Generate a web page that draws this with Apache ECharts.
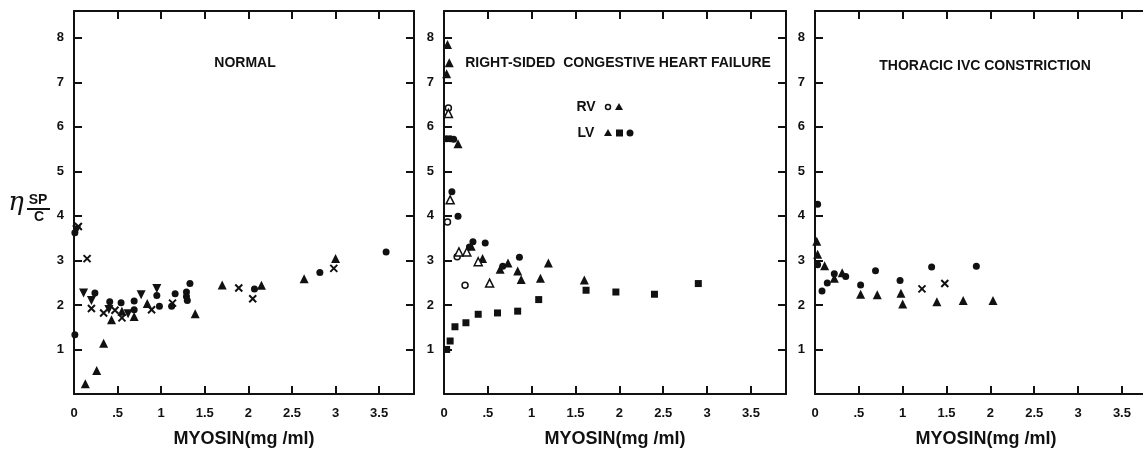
<!DOCTYPE html>
<html>
<head>
<meta charset="utf-8">
<script src="https://cdn.jsdelivr.net/npm/echarts@6/dist/echarts.min.js"></script>
<style>
  html, body { margin: 0; padding: 0; background: #fff; }
  #chart { width: 1143px; height: 449px; }
</style>
</head>
<body>
<div id="chart"></div>
<script>
// tick values and their printed labels
const xTickValues = [0, 0.5, 1, 1.5, 2, 2.5, 3, 3.5];
const xTickLabels = ['0', '.5', '1', '1.5', '2', '2.5', '3', '3.5'];
const yTickValues = [1, 2, 3, 4, 5, 6, 7, 8];

// NORMAL
const normalCircle = [[3.58,3.19],[2.82,2.73],[2.07,2.36],[1.33,2.48],[1.29,2.29],[1.29,2.19],[1.30,2.10],[1.16,2.25],[1.12,1.97],[0.98,1.97],[0.95,2.21],[0.69,2.09],[0.69,1.89],[0.54,2.05],[0.41,2.07],[0.24,2.27],[0.01,1.33],[0.01,3.62]];
const normalCross = [[0.05,3.76],[0.15,3.04],[0.20,1.92],[0.34,1.82],[0.47,1.88],[0.55,1.71],[0.89,1.89],[1.13,2.04],[1.89,2.38],[2.05,2.14],[2.98,2.82]];
const normalDown = [[0.03,3.68],[0.11,2.27],[0.20,2.10],[0.40,1.90],[0.62,1.80],[0.77,2.23],[0.95,2.37]];
const normalUp = [[0.13,0.23],[0.26,0.53],[0.34,1.14],[0.43,1.67],[0.55,1.86],[0.69,1.74],[0.84,2.03],[1.39,1.80],[1.70,2.45],[2.15,2.44],[2.64,2.59],[3.00,3.04]];

// RIGHT-SIDED CONGESTIVE HEART FAILURE
const lvSquare = [[0.03,1.00],[0.07,1.19],[0.125,1.51],[0.25,1.60],[0.39,1.79],[0.61,1.82],[0.84,1.86],[1.08,2.12],[1.62,2.33],[1.96,2.29],[2.40,2.24],[2.90,2.48]];
const lvTriangle = [[0.04,7.85],[0.06,7.44],[0.03,7.19],[0.16,5.62],[0.31,3.32],[0.44,3.04],[0.64,2.80],[0.73,2.94],[0.84,2.76],[0.88,2.57],[1.10,2.60],[1.19,2.94],[1.60,2.56]];
const lvCircle = [[0.03,5.73],[0.07,5.73],[0.11,5.72],[0.09,4.54],[0.16,3.99],[0.33,3.42],[0.29,3.30],[0.47,3.39],[0.67,2.87],[0.86,3.07]];
const rvCircle = [[0.05,6.42],[0.04,3.86],[0.15,3.08],[0.24,2.44]];
const rvTriangle = [[0.05,6.30],[0.07,4.36],[0.17,3.19],[0.26,3.19],[0.39,2.97],[0.52,2.49]];

// THORACIC IVC CONSTRICTION
const ivcCircle = [[0.03,4.26],[0.03,2.90],[0.08,2.31],[0.14,2.49],[0.22,2.70],[0.35,2.64],[0.52,2.45],[0.69,2.77],[0.97,2.55],[1.33,2.85],[1.84,2.87]];
const ivcTriangle = [[0.02,3.43],[0.03,3.14],[0.11,2.88],[0.22,2.60],[0.31,2.72],[0.52,2.24],[0.71,2.23],[0.98,2.26],[1.00,2.02],[1.39,2.07],[1.69,2.10],[2.03,2.10]];
const ivcCross = [[1.22,2.36],[1.48,2.48]];

const INK = '#111';
const FONT = '"Liberation Sans", Arial, sans-serif';
const crossPath = 'path://M1,1L9,9M9,1L1,9';

// panel 3 runs off the right edge of the picture, as in the scan
const grids = [
  {left: 74, top: 11, width: 340, height: 383, outerBoundsMode: 'none', containLabel: false},
  {left: 444, top: 11, width: 342, height: 383, outerBoundsMode: 'none', containLabel: false},
  {left: 815, top: 11, width: 342, height: 383, outerBoundsMode: 'none', containLabel: false}
];

const xAxes = [], yAxes = [];
grids.forEach((g, i) => {
  const line = {onZero: false, lineStyle: {color: INK, width: 2}};
  const tick = {inside: true, length: 8, lineStyle: {color: INK, width: 2}};
  xAxes.push({
    type: 'value', gridIndex: i, min: 0, max: 3.9, position: 'bottom',
    axisLine: line,
    axisTick: Object.assign({customValues: xTickValues}, tick),
    axisLabel: {
      customValues: xTickValues, margin: 13, color: INK, fontWeight: 'bold', fontSize: 13, fontFamily: FONT,
      formatter: v => xTickLabels[xTickValues.indexOf(v)] ?? ''
    },
    splitLine: {show: false},
    name: 'MYOSIN(mg /ml)', nameLocation: 'middle', nameGap: 36,
    nameTextStyle: {color: INK, fontWeight: 'bold', fontSize: 18, fontFamily: FONT}
  });
  xAxes.push({
    type: 'value', gridIndex: i, min: 0, max: 3.9, position: 'top',
    axisLine: line,
    axisTick: Object.assign({customValues: xTickValues}, tick),
    axisLabel: {show: false},
    splitLine: {show: false}
  });
  yAxes.push({
    type: 'value', gridIndex: i, min: 0, max: 8.6, position: 'left',
    axisLine: line,
    axisTick: Object.assign({customValues: yTickValues}, tick),
    axisLabel: {customValues: yTickValues, margin: 10, color: INK, fontWeight: 'bold', fontSize: 13, fontFamily: FONT},
    splitLine: {show: false}
  });
  yAxes.push({
    type: 'value', gridIndex: i, min: 0, max: 8.6, position: 'right',
    axisLine: line,
    axisTick: Object.assign({customValues: yTickValues}, tick),
    axisLabel: {show: false},
    splitLine: {show: false}
  });
});

function pts(panel, data, symbol, size, extra) {
  return Object.assign({
    type: 'scatter', xAxisIndex: panel * 2, yAxisIndex: panel * 2,
    data: data, symbol: symbol, symbolSize: size,
    itemStyle: {color: INK, opacity: 1}, silent: true
  }, extra || {});
}
const crossStyle = {itemStyle: {color: 'none', borderColor: INK, borderWidth: 2, opacity: 1}};
const openStyle = {itemStyle: {color: '#fff', borderColor: INK, borderWidth: 1.5, opacity: 1}};

const series = [
  pts(0, normalCircle, 'circle', 7),
  pts(0, normalCross, crossPath, 7, crossStyle),
  pts(0, normalDown, 'triangle', 9, {symbolRotate: 180}),
  pts(0, normalUp, 'triangle', 9),
  pts(1, lvSquare, 'rect', 7),
  pts(1, lvTriangle, 'triangle', 9),
  pts(1, lvCircle, 'circle', 7),
  pts(1, rvCircle, 'circle', 6, openStyle),
  pts(1, rvTriangle, 'triangle', 8, openStyle),
  pts(2, ivcCircle, 'circle', 7),
  pts(2, ivcTriangle, 'triangle', 9),
  pts(2, ivcCross, crossPath, 7, crossStyle)
];

const txt = (x, y, text, size, extra) => Object.assign({
  type: 'text', x: x, y: y,
  style: Object.assign({text: text, fill: INK, font: 'bold ' + size + 'px ' + FONT, align: 'center', verticalAlign: 'middle'}, extra || {})
});

const graphic = [
  txt(245, 63, 'NORMAL', 14),
  txt(618, 63, 'RIGHT-SIDED  CONGESTIVE HEART FAILURE', 14),
  txt(985, 66, 'THORACIC IVC CONSTRICTION', 14),
  // legend inside the second panel
  txt(586, 107, 'RV', 14),
  {type: 'circle', shape: {cx: 608, cy: 107, r: 2.5}, style: {fill: '#fff', stroke: INK, lineWidth: 1.5}},
  {type: 'polygon', shape: {points: [[619, 103], [623, 110], [615, 110]]}, style: {fill: INK}},
  txt(586, 133, 'LV', 14),
  {type: 'polygon', shape: {points: [[608, 129], [612, 136], [604, 136]]}, style: {fill: INK}},
  {type: 'rect', shape: {x: 616, y: 129.5, width: 7, height: 7}, style: {fill: INK}},
  {type: 'circle', shape: {cx: 630, cy: 133, r: 3.5}, style: {fill: INK}},
  // y-axis name: eta sub SP over C
  {type: 'text', x: 16, y: 203, style: {text: 'η', fill: INK, font: 'italic 26px "DejaVu Serif", serif', align: 'center', verticalAlign: 'middle'}},
  txt(38, 200, 'SP', 14),
  {type: 'line', shape: {x1: 27, y1: 209, x2: 50, y2: 209}, style: {stroke: INK, lineWidth: 2}},
  txt(39, 217, 'C', 14)
];

const chart = echarts.init(document.getElementById('chart'), null, {renderer: 'canvas'});
chart.setOption({
  backgroundColor: '#fff',
  animation: false,
  grid: grids,
  xAxis: xAxes,
  yAxis: yAxes,
  series: series,
  graphic: graphic
});
</script>
</body>
</html>
